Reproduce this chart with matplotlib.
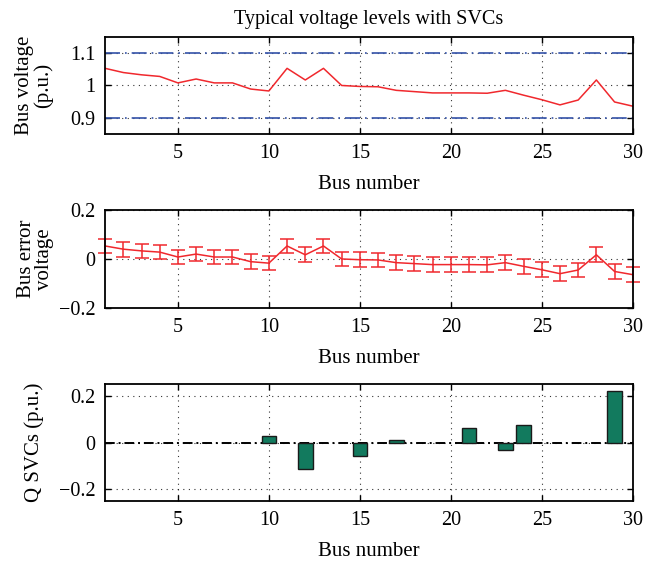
import matplotlib
matplotlib.use("Agg")
import matplotlib.pyplot as plt

plt.rcParams['font.family'] = ['Liberation Serif', 'DejaVu Serif']
plt.rcParams['font.size'] = 14.5
plt.rcParams['axes.unicode_minus'] = True

# bus numbers 1..30
buses = list(range(1, 31))

# bus voltages (p.u.)
volt = [1.053, 1.040, 1.033, 1.028, 1.008, 1.020, 1.008, 1.008, 0.989, 0.983,
        1.053, 1.017, 1.053, 1.000, 0.997, 0.996, 0.985, 0.981, 0.977, 0.977,
        0.977, 0.976, 0.985, 0.970, 0.956, 0.940, 0.955, 1.017, 0.949, 0.936]

# bus error voltage and its spread (middle panel)
err = [0.053, 0.040, 0.033, 0.028, 0.008, 0.020, 0.008, 0.008, -0.011, -0.017,
       0.053, 0.017, 0.053, 0.000, -0.003, -0.004, -0.015, -0.019, -0.023, -0.023,
       -0.023, -0.024, -0.015, -0.030, -0.044, -0.060, -0.045, 0.017, -0.051, -0.064]
err_bar = [0.03] * 30

# SVC reactive power injections (bottom panel)
svc_bus = [10, 12, 15, 17, 21, 23, 24, 29]
svc_q = [0.028, -0.113, -0.058, 0.012, 0.062, -0.030, 0.074, 0.219]

v_limits = [1.1, 0.9]

red = '#f0282d'
blue = '#3352a8'
green = '#127a5e'


def style_axes(ax):
    ax.set_xlim(1, 30)
    ax.set_xticks([5, 10, 15, 20, 25, 30])
    ax.tick_params(direction='in', top=True, right=True, length=4, width=1, pad=7)
    for s in ax.spines.values():
        s.set_linewidth(1.3)
        s.set_color('black')
    ax.grid(True, linestyle=(0, (1, 4)), color='black', linewidth=0.8, alpha=0.8)
    ax.set_axisbelow(True)
    ax.set_xlabel("Bus number", fontsize=15, labelpad=9)


fig = plt.figure(figsize=(6.53, 5.62), dpi=100)

# top: bus voltages
ax1 = fig.add_axes([0.161, 0.7616, 0.808, 0.1726])
style_axes(ax1)
ax1.set_ylim(0.85, 1.15)
ax1.set_yticks([0.9, 1, 1.1])
ax1.set_yticklabels(['0.9', '1', '1.1'])
for lim in v_limits:
    ax1.axhline(lim, color=blue, linestyle=(0, (9, 3, 1, 3)), linewidth=1.2)
ax1.plot(buses, volt, color=red, linewidth=1.1)
ax1.set_ylabel("Bus voltage\n(p.u.)", fontsize=15, linespacing=0.95)
ax1.set_title("Typical voltage levels with SVCs", fontsize=14.5, pad=9)

# middle: error voltage with error bars
ax2 = fig.add_axes([0.161, 0.452, 0.808, 0.1744])
style_axes(ax2)
ax2.set_ylim(-0.2, 0.2)
ax2.set_yticks([-0.2, 0, 0.2])
ax2.set_yticklabels(['\u22120.2', '0', '0.2'])
ax2.errorbar(buses, err, yerr=err_bar, color=red, linewidth=1.1,
             elinewidth=1.1, capsize=5, capthick=1.1, clip_on=False)
ax2.set_ylabel("Bus error\nvoltage", fontsize=15, linespacing=0.95)

# bottom: SVC reactive power
ax3 = fig.add_axes([0.161, 0.1085, 0.808, 0.208])
style_axes(ax3)
ax3.set_ylim(-0.25, 0.25)
ax3.set_yticks([-0.2, 0, 0.2])
ax3.set_yticklabels(['\u22120.2', '0', '0.2'])
ax3.axhline(0, color='black', linestyle=(0, (5, 2, 1, 2)), linewidth=1.4, zorder=1)
ax3.bar(svc_bus, svc_q, width=0.8, color=green, edgecolor='#1a1a1a',
        linewidth=1.0, zorder=2)
ax3.set_ylabel("Q SVCs (p.u.)", fontsize=15)

ax1.yaxis.set_label_coords(-0.098, 0.5)
ax2.yaxis.set_label_coords(-0.097, 0.5)
ax3.yaxis.set_label_coords(-0.115, 0.5)

fig.savefig("out.png", dpi=100)
